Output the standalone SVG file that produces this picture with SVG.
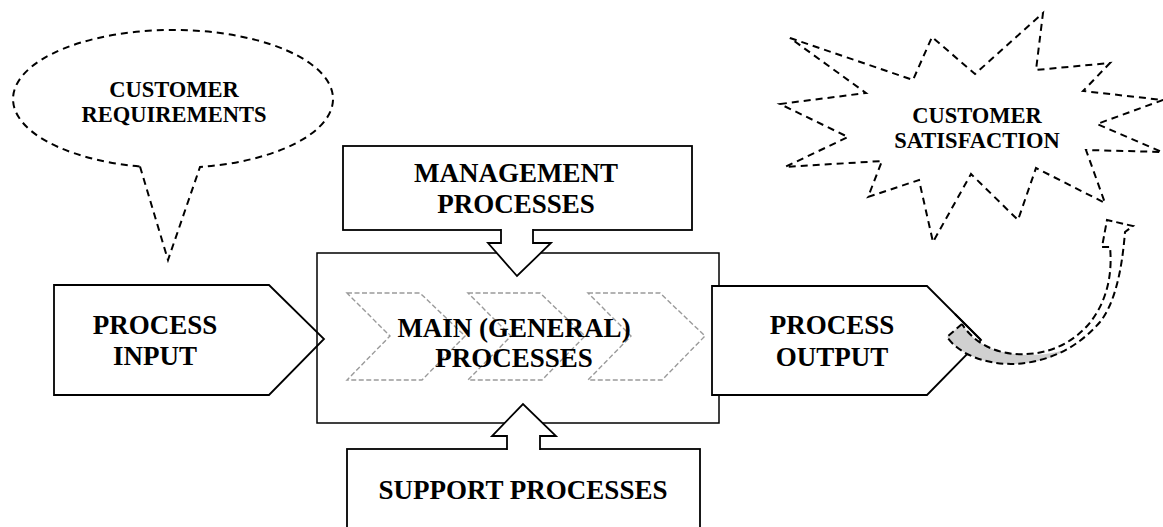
<svg xmlns="http://www.w3.org/2000/svg" width="1163" height="527" viewBox="0 0 1163 527">
<style>
.box{fill:#fff;stroke:#000;stroke-width:1.8}
.open{fill:none;stroke:#000;stroke-width:1.5}
.dash{fill:#fff;stroke:#000;stroke-width:2;stroke-dasharray:7,5}
.dashn{fill:none;stroke:#000;stroke-width:2;stroke-dasharray:7,4}
.chev{fill:none;stroke:#9a9a9a;stroke-width:1.4;stroke-dasharray:5,2.5}
.t{font-family:"Liberation Serif","Times New Roman",serif;font-weight:bold;font-size:27px;fill:#000;text-anchor:middle}
.s{font-family:"Liberation Serif","Times New Roman",serif;font-weight:bold;font-size:22.5px;fill:#000;text-anchor:middle}
</style>
<rect width="1163" height="527" fill="#fff"/>
<g id="customer-requirements">
<path class="dash" d="M140,166.5 L168,260 L200,167 A160,69 0 1 0 140,166.5 Z"/>
<text class="s" x="174" y="97">CUSTOMER</text>
<text class="s" x="174" y="122">REQUIREMENTS</text>
</g>
<g id="customer-satisfaction">
<path class="dash" d="M790,38 L913,80 L932,37 L975,74 L1043,13 L1036,70 L1110,63 L1083,91 L1163,100 L1097,124 L1162,152 L1086,150 L1105,203 L1036,168 L1018,220 L971,174 L933,242 L919,180 L868,197 L882,161 L785,167 L848,137 L780,104 L866,93 Z"/>
<text class="s" x="977" y="123">CUSTOMER</text>
<text class="s" x="977" y="148">SATISFACTION</text>
</g>
<g id="process-input">
<path class="box" d="M54,285 L269,285 L324,339 L269,395 L54,395 Z"/>
<text class="t" x="155" y="334">PROCESS</text>
<text class="t" x="155" y="365">INPUT</text>
</g>
<g id="main-processes">
<rect class="open" x="317" y="253" width="402" height="170"/>
<path class="chev" d="M347,293 L420,293 L465,336 L422,380 L347,380 L390,336 Z"/>
<path class="chev" d="M468,293 L540,293 L585,336 L542,380 L468,380 L511,336 Z"/>
<path class="chev" d="M588,293 L660,293 L705,336 L662,380 L588,380 L631,336 Z"/>
<text class="t" x="514" y="337">MAIN (GENERAL)</text>
<text class="t" x="514" y="367">PROCESSES</text>
</g>
<g id="management-processes">
<rect class="box" x="343" y="146" width="349" height="84"/>
<path class="box" d="M501,229 L501,243 L488,243 L517,276 L551,243 L533,243 L533,229"/>
<text class="t" x="516" y="182">MANAGEMENT</text>
<text class="t" x="516" y="213">PROCESSES</text>
</g>
<g id="support-processes">
<rect class="box" x="347" y="449" width="353" height="100"/>
<path class="box" d="M507,450 L507,436 L492,436 L523,404 L556,436 L540,436 L540,450"/>
<text class="t" x="523" y="499">SUPPORT PROCESSES</text>
</g>
<g id="process-output">
<path class="box" d="M712,286 L927,286 L981,340 L927,395 L712,395 Z"/>
<text class="t" x="832" y="334">PROCESS</text>
<text class="t" x="832" y="366">OUTPUT</text>
</g>
<g id="connectors">
<path d="M962,324 L947,337 C962,358 995,367 1025,363 C1045,361 1058,355 1067,349 C1050,355 1030,356 1015,354 C990,352 972,340 962,324 Z" fill="#d0d0d0" stroke="none"/>
<line x1="955" y1="314" x2="981" y2="340" stroke="#000" stroke-width="1.8"/>
<path class="dashn" d="M962,324 L947,337 C962,358 995,367 1025,363 C1055,359 1080,345 1100,322 C1115,303 1122,270 1125,232 L1133,226 L1107,220 L1102,247 L1110,247 C1113,278 1105,305 1088,325 C1070,345 1045,356 1015,354 C990,352 972,340 962,324"/>
</g>
</svg>
